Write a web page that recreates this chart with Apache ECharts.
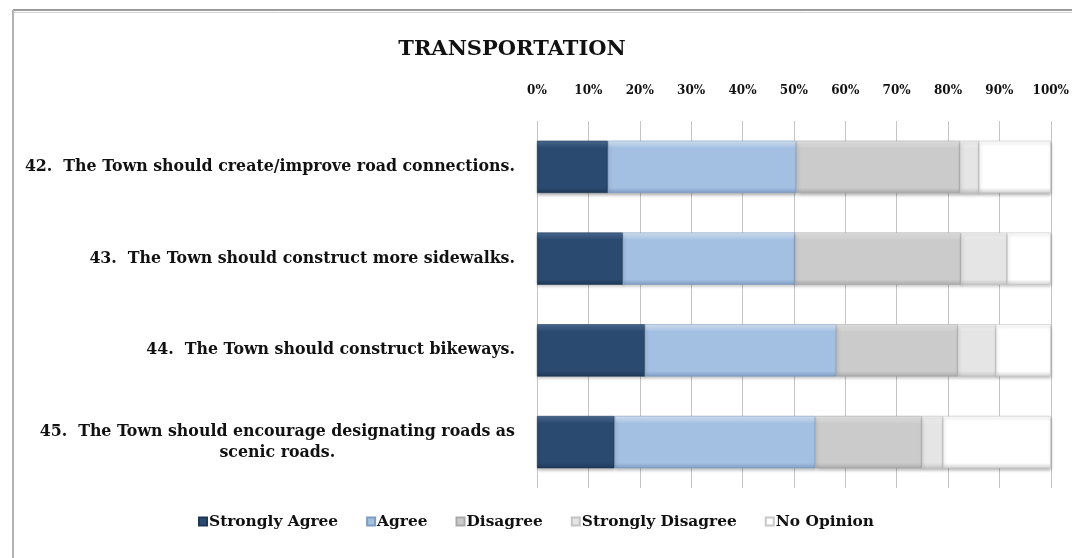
<!DOCTYPE html>
<html>
<head>
<meta charset="utf-8">
<script src="https://cdn.jsdelivr.net/npm/echarts@6/dist/echarts.min.js"></script>
<style>
  html, body { margin: 0; padding: 0; background: #ffffff; }
  #chart { width: 1072px; height: 558px; }
</style>
</head>
<body>
<div id="chart"></div>
<script>
// Survey statements (top to bottom)
var categories = [
  '42.  The Town should create/improve road connections.',
  '43.  The Town should construct more sidewalks.',
  '44.  The Town should construct bikeways.',
  '45.  The Town should encourage designating roads as\nscenic roads.'
];

// Share of responses, percent
var stronglyAgree    = [13.8, 16.7, 21.0, 15.1];
var agree            = [36.7, 33.5, 37.3, 39.1];
var disagree         = [31.8, 32.3, 23.6, 20.7];
var stronglyDisagree = [3.7, 9.0, 7.4, 4.1];
var noOpinion        = [14.0, 8.5, 10.7, 21.0];

var seriesNames = ['Strongly Agree', 'Agree', 'Disagree', 'Strongly Disagree', 'No Opinion'];
var seriesData = [stronglyAgree, agree, disagree, stronglyDisagree, noOpinion];
var baseColors = ['#2b4a6f', '#a3bfe2', '#cbcbcb', '#e5e5e5', '#ffffff'];
var topColors  = ['#4d6d95', '#dbe9f7', '#e8e8e8', '#f4f4f4', '#ffffff'];
var edgeColors = ['#1e3756', '#7f9cc2', '#a9a9a9', '#c4c4c4', '#d0d0d0'];

var serif = '"DejaVu Serif", "Liberation Serif", serif';

function bevel(i) {
  return {
    type: 'linear', x: 0, y: 0, x2: 0, y2: 1,
    colorStops: [
      { offset: 0, color: topColors[i] },
      { offset: 0.14, color: baseColors[i] },
      { offset: 0.9, color: baseColors[i] },
      { offset: 1, color: edgeColors[i] }
    ]
  };
}

var chart = echarts.init(document.getElementById('chart'), null, { renderer: 'canvas' });

chart.setOption({
  backgroundColor: '#ffffff',
  animation: false,
  title: {
    text: 'TRANSPORTATION',
    left: 507,
    top: 34,
    textAlign: 'center',
    textStyle: { fontFamily: serif, fontWeight: 'bold', fontSize: 21, color: '#111' }
  },
  graphic: [
    { type: 'line', shape: { x1: 13, y1: 10, x2: 1072, y2: 10 }, style: { stroke: '#9c9c9c', lineWidth: 2 } },
    { type: 'line', shape: { x1: 14, y1: 12.5, x2: 1072, y2: 12.5 }, style: { stroke: '#d4d4d4', lineWidth: 1 } },
    { type: 'line', shape: { x1: 13, y1: 10, x2: 13, y2: 558 }, style: { stroke: '#b4b4b4', lineWidth: 2 } }
  ],
  legend: {
    data: seriesNames,
    bottom: 24,
    left: 'center',
    itemWidth: 8,
    itemHeight: 8,
    itemGap: 28,
    icon: 'rect',
    textStyle: { fontFamily: serif, fontWeight: 'bold', fontSize: 15.4, color: '#111', padding: [0, 0, 0, -3] }
  },
  grid: { left: 537, right: 21, top: 121, bottom: 70, containLabel: false },
  xAxis: {
    type: 'value',
    position: 'top',
    min: 0,
    max: 100,
    interval: 10,
    axisLine: { show: false },
    axisTick: { show: false },
    axisLabel: {
      formatter: '{value}%',
      margin: 24,
      fontFamily: serif,
      fontWeight: 'bold',
      fontSize: 12,
      color: '#111'
    },
    splitLine: { show: true, lineStyle: { color: '#c4c4c4', width: 1 } }
  },
  yAxis: {
    type: 'category',
    inverse: true,
    data: categories,
    axisLine: { show: false },
    axisTick: { show: false },
    axisLabel: {
      margin: 22,
      formatter: function (v) {
        return v.split('\n').map(function (s) { return '{a|' + s + '}'; }).join('\n');
      },
      rich: {
        a: { fontFamily: serif, fontWeight: 'bold', fontSize: 15.8, color: '#111', align: 'center', lineHeight: 21 }
      }
    }
  },
  series: seriesNames.map(function (name, i) {
    return {
      name: name,
      type: 'bar',
      stack: 'total',
      barCategoryGap: '43%',
      color: baseColors[i],
      data: seriesData[i],
      itemStyle: {
        color: bevel(i),
        borderColor: i === 4 ? '#c8c8c8' : edgeColors[i],
        borderWidth: 0.6,
        shadowColor: 'rgba(0,0,0,0.28)',
        shadowBlur: 3,
        shadowOffsetX: 1,
        shadowOffsetY: 2
      }
    };
  })
});
</script>
</body>
</html>
